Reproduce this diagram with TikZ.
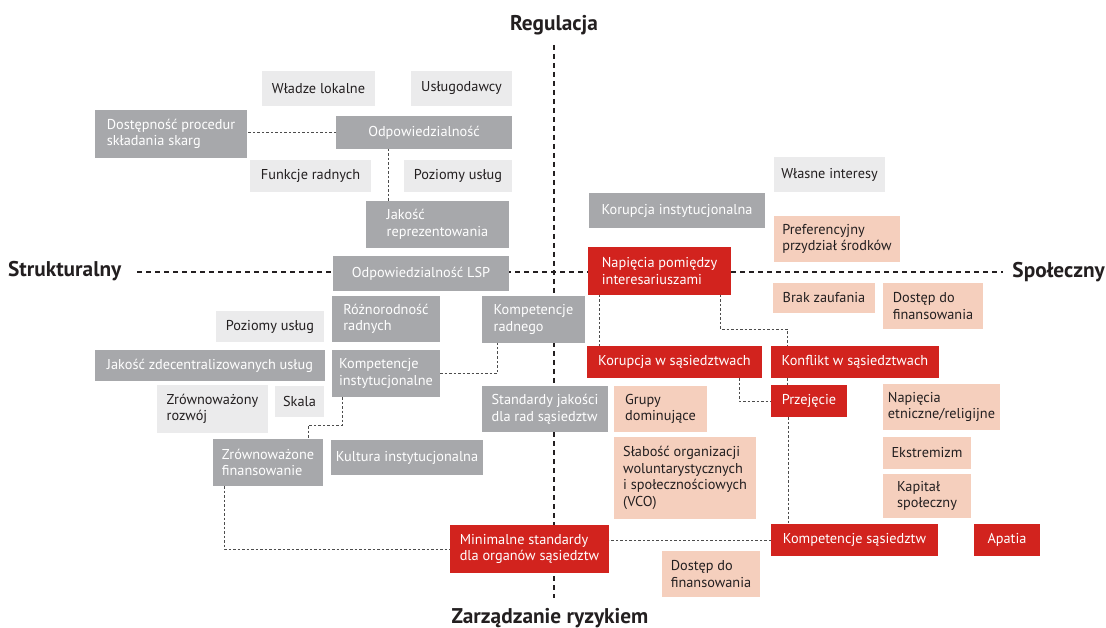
\documentclass[tikz,border=0pt]{standalone}
\usepackage{fontspec}
\setmainfont{PT Sans}
\definecolor{dgray}{RGB}{167,168,171}
\definecolor{lgray}{RGB}{235,235,236}
\definecolor{peach}{RGB}{245,207,189}
\definecolor{rred}{RGB}{210,35,30}
\definecolor{ink}{RGB}{35,31,32}
\newcommand\bx[7]{\node[box,#6,minimum width=\dimexpr#4pt-#2pt\relax,minimum height=\dimexpr#5pt-#3pt\relax] (#1) at (#2,#3) {#7};}
\tikzset{
  box/.style={anchor=north west,inner xsep=3pt,inner ysep=2pt,outer sep=0pt,align=left,font=\fontsize{14.3}{16.6}\selectfont},
  lg/.style={fill=lgray,text=ink},
  dg/.style={fill=dgray,text=white},
  pc/.style={fill=peach,text=ink},
  rd/.style={fill=rred,text=white},
  title/.style={font=\fontsize{21.3}{24}\selectfont\bfseries,text=ink,inner sep=0pt},
  axis/.style={draw=ink,line width=1.1pt,dash pattern=on 5pt off 4pt},
  conn/.style={draw=black!70,line width=0.8pt,dash pattern=on 2.5pt off 2pt},
}
\begin{document}
\begin{tikzpicture}[x=1pt,y=-1pt]
\fill[white] (0,0) rectangle (1106,628);
\useasboundingbox (0,0) rectangle (1106,628);
% titles
\node[title] (reg) at (554,25) {Regulacja};
\node[title,anchor=west] (str) at (8,271) {Strukturalny};
\node[title,anchor=east] (spo) at (1105,272) {Społeczny};
\node[title] (zar) at (550,618) {Zarządzanie ryzykiem};
\coordinate (axT) at (554,45);
\coordinate (axB) at (554,598);
\coordinate (axL) at (137,272);
\coordinate (axR) at (1003,272);
\draw[axis] (axT) -- (axB);
\draw[axis] (axL) -- (axR);
% light gray
\bx{wl}{262}{71}{375}{106}{lg}{Władze lokalne}
\bx{usl}{411}{71}{512}{106}{lg}{Usługodawcy}
\bx{fr}{250}{160}{371}{192}{lg}{Funkcje radnych}
\bx{pua}{404}{160}{512}{192}{lg}{Poziomy usług}
\bx{wi}{774}{157}{885}{192}{lg}{Własne interesy}
\bx{pub}{216}{311}{324}{342}{lg}{Poziomy usług}
\bx{zr}{157}{385}{268}{433}{lg}{Zrównoważony\\rozwój}
\bx{sk}{275}{386}{324}{417}{lg}{Skala}
% dark gray
\bx{dost}{95}{110}{247}{158}{dg}{Dostępność procedur\\składania skarg}
\bx{odp}{336}{116}{512}{149}{dg}{Odpowiedzialność}
\bx{jak}{366}{201}{509}{248}{dg}{Jakość\\reprezentowania}
\bx{lsp}{333}{256}{509}{291}{dg}{Odpowiedzialność LSP}
\bx{kinst}{589}{193}{765}{228}{dg}{Korupcja instytucjonalna}
\bx{roz}{332}{296}{440}{342}{dg}{Różnorodność\\radnych}
\bx{krad}{482}{296}{585}{343}{dg}{Kompetencje\\radnego}
\bx{jzu}{95}{350}{325}{381}{dg}{Jakość zdecentralizowanych usług}
\bx{kins}{332}{350}{440}{397}{dg}{Kompetencje\\instytucjonalne}
\bx{std}{482}{386}{608}{432}{dg}{Standardy jakości\\dla rad sąsiedztw}
\bx{zfin}{213}{439}{323}{486}{dg}{Zrównoważone\\finansowanie}
\bx{kult}{331}{440}{483}{475}{dg}{Kultura instytucjonalna}
% peach
\bx{pref}{774}{216}{900}{262}{pc}{Preferencyjny\\przydział środków}
\bx{brak}{773}{283}{875}{313}{pc}{Brak zaufania}
\bx{dfa}{883}{283}{983}{329}{pc}{Dostęp do\\finansowania}
\bx{grupy}{614}{386}{707}{432}{pc}{Grupy\\dominujące}
\bx{nape}{883}{384}{1000}{430}{pc}{Napięcia\\etniczne/religijne}
\bx{ekst}{883}{437}{971}{469}{pc}{Ekstremizm}
\bx{kap}{883}{474}{971}{518}{pc}{Kapitał\\społeczny}
\bx{slab}{614}{437}{756}{519}{pc}{Słabość organizacji\\woluntarystycznych\\i społecznościowych\\(VCO)}
\bx{dfb}{662}{551}{760}{597}{pc}{Dostęp do\\finansowania}
% red
\bx{nap}{588}{247}{731}{295}{rd}{Napięcia pomiędzy\\interesariuszami}
\bx{kors}{587}{346}{762}{378}{rd}{Korupcja w sąsiedztwach}
\bx{konf}{771}{346}{939}{378}{rd}{Konflikt w sąsiedztwach}
\bx{prz}{771}{385}{847}{417}{rd}{Przejęcie}
\bx{min}{450}{525}{609}{573}{rd}{Minimalne standardy\\dla organów sąsiedztw}
\bx{ksas}{771}{524}{938}{556}{rd}{Kompetencje sąsiedztw}
\bx{apa}{974}{524}{1040}{556}{rd}{Apatia}
% connectors
\draw[conn] (odp.west) -- (odp.west -| dost.east);
\draw[conn] (odp.south -| 388,0) -- (jak.north -| 388,0);
\draw[conn] (kins.east) -| (krad.south -| 497,0);
\draw[conn] (kins.south -| 342,0) -- (342,425) -| (zfin.north -| 308,0);
\draw[conn] (zfin.south -| 224,0) |- (min.west);
\draw[conn] (ksas.west) -- (ksas.west -| min.east);
\draw[conn] (nap.south -| 599,0) -- (kors.north -| 599,0);
\draw[conn] (nap.south -| 720,0) -- (720,329) -| (konf.north -| 787,0);
\draw[conn] (konf.south -| 787,0) -- (prz.north -| 787,0);
\draw[conn] (kors.south -| 739,0) |- (prz.west);
\draw[conn] (prz.south -| 788,0) -- (ksas.north -| 788,0);
\end{tikzpicture}
\end{document}
